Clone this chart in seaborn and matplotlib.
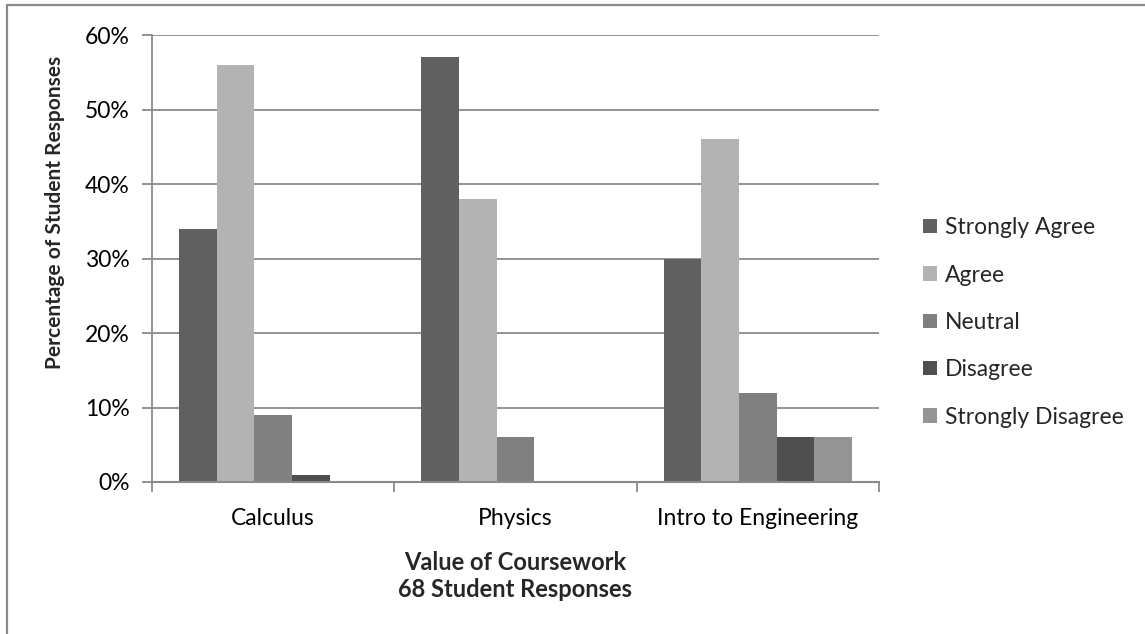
import matplotlib
matplotlib.use("Agg")
import matplotlib.pyplot as plt
from matplotlib.lines import Line2D
from matplotlib.patches import Patch
import seaborn as sns
import pandas as pd

courses = ["Calculus", "Physics", "Intro to Engineering"]
responses = ["Strongly Agree", "Agree", "Neutral", "Disagree", "Strongly Disagree"]
strongly_agree = [34, 57, 30]
agree = [56, 38, 46]
neutral = [9, 6, 12]
disagree = [1, 0, 6]
strongly_disagree = [0, 0, 6]
colors = ["#606060", "#b3b3b3", "#808080", "#4f4f4f", "#949494"]
y_ticks = [0, 10, 20, 30, 40, 50, 60]

series = [strongly_agree, agree, neutral, disagree, strongly_disagree]
rows = []
for resp, vals in zip(responses, series):
    for course, v in zip(courses, vals):
        rows.append({"Course": course, "Response": resp, "Percent": v})
df = pd.DataFrame(rows)

sns.set_theme(style="white")
plt.rcParams["font.family"] = ["Lato", "DejaVu Sans"]

W, H = 1145, 634
fig = plt.figure(figsize=(W / 100, H / 100), dpi=100)
ax = fig.add_axes([152 / W, 1 - 482 / H, (879 - 152) / W, (482 - 35) / H])

sns.barplot(data=df, x="Course", y="Percent", hue="Response",
            order=courses, hue_order=responses, palette=colors,
            width=0.776, gap=0, linewidth=0, ax=ax, legend=False)

grid_c = "#8a8a8a"
fs = 16.5
ax.set_ylim(0, 60)
ax.set_xlim(-0.5, len(courses) - 0.5)
ax.set_yticks(y_ticks)
ax.set_yticklabels([f"{t}%" for t in y_ticks])
ax.yaxis.grid(True, color=grid_c, linewidth=1.3)
ax.set_axisbelow(True)
for side in ["top", "right"]:
    ax.spines[side].set_visible(False)
ax.spines["left"].set_color(grid_c)
ax.spines["left"].set_linewidth(1.3)
ax.spines["bottom"].set_color(grid_c)
ax.spines["bottom"].set_linewidth(1.5)

ax.tick_params(axis="y", which="major", length=7, width=1.3, color=grid_c,
               direction="out", left=True, labelsize=fs, pad=9, labelcolor="#000000")
ax.set_xticks(range(len(courses)))
ax.set_xticklabels(courses)
ax.set_xticks([i - 0.5 for i in range(len(courses) + 1)], minor=True)
ax.tick_params(axis="x", which="major", length=0, labelsize=fs, pad=19, labelcolor="#000000")
ax.tick_params(axis="x", which="minor", length=7, width=1.3, color=grid_c,
               direction="out", bottom=True)

ax.set_xlabel("")
ax.set_ylabel("")
fig.text(55 / W, 1 - 212 / H, "Percentage of Student Responses", rotation=90,
         ha="center", va="center", fontsize=15, fontweight="bold")
fig.text(515 / W, 1 - 576 / H, "Value of Coursework\n68 Student Responses",
         ha="center", va="center", fontsize=17, fontweight="bold", linespacing=1.23)

handles = [Patch(facecolor=c, edgecolor="none") for c in colors]
fig.legend(handles, responses, loc="upper left",
           bbox_to_anchor=(914 / W, 1 - 208 / H), frameon=False,
           fontsize=fs, labelspacing=1.15, handlelength=0.6, handleheight=0.6,
           handletextpad=0.35, borderaxespad=0)

# outer chart border (top and left edges)
fig.add_artist(Line2D([7 / W, 1], [1 - 5 / H, 1 - 5 / H], color="#8a8a8a", linewidth=1.6))
fig.add_artist(Line2D([7 / W, 7 / W], [0, 1 - 5 / H], color="#8a8a8a", linewidth=1.6))

fig.savefig("out.png", dpi=100)
